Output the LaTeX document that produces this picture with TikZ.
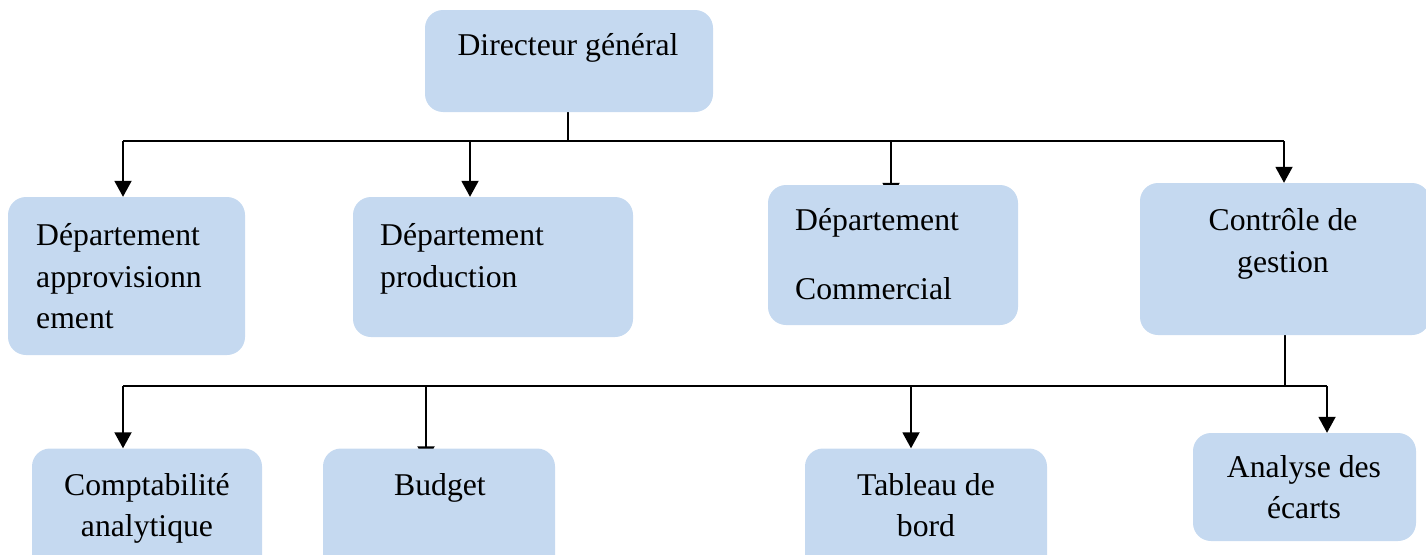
\documentclass[tikz,border=0pt]{standalone}
\usepackage{fontspec}
\setmainfont{Liberation Serif}
\usetikzlibrary{arrows.meta,backgrounds}
\definecolor{boxblue}{HTML}{C5D9F0}
\begin{document}
\begin{tikzpicture}[x=1pt,y=-1pt,
  box/.style={fill=boxblue,draw=none,rounded corners=18pt,inner sep=0pt},
  txt/.style={inner sep=0pt,font=\fontsize{31.7}{38}\selectfont},
  conn/.style={line width=1.9pt,draw=black},
  arr/.style={conn,-{Triangle[width=17pt,length=16pt]}},
  hidarr/.style={arr,shorten >=-14pt}]
\clip (0,0) rectangle (1426,554);
\useasboundingbox (0,0) rectangle (1426,554);
% boxes
\node[box,minimum width=288pt,minimum height=102pt] (dg) at (569,61) {};
\node[box,minimum width=237pt,minimum height=158pt] (appr) at (126.5,276) {};
\node[box,minimum width=280pt,minimum height=140pt] (prod) at (493,267) {};
\node[box,minimum width=250pt,minimum height=140pt] (comm) at (893,255) {};
\node[box,minimum width=290pt,minimum height=152pt] (ctrl) at (1285,259) {};
\node[box,minimum width=230pt,minimum height=125pt] (compta) at (147,511) {};
\node[box,minimum width=232pt,minimum height=125pt] (budget) at (439,511) {};
\node[box,minimum width=242pt,minimum height=125pt] (tab) at (926,511) {};
\node[box,minimum width=223pt,minimum height=108pt] (ana) at (1304.5,487) {};
% texts
\node[txt,anchor=base] (t-dg) at (568,55) {Directeur général};
\node[txt,anchor=base west] (t-ap1) at (36,245) {Département};
\node[txt,anchor=base west] (t-ap2) at (36,287) {approvisionn};
\node[txt,anchor=base west] (t-ap3) at (36,328) {ement};
\node[txt,anchor=base west] (t-pr1) at (380,245) {Département};
\node[txt,anchor=base west] (t-pr2) at (380,287) {production};
\node[txt,anchor=base west] (t-co1) at (795,230) {Département};
\node[txt,anchor=base west] (t-co2) at (795,299) {Commercial};
\node[txt,anchor=base] (t-ct1) at (1283,230) {Contrôle de};
\node[txt,anchor=base] (t-ct2) at (1283,272) {gestion};
\node[txt,anchor=base] (t-cp1) at (147,495) {Comptabilité};
\node[txt,anchor=base] (t-cp2) at (147,536) {analytique};
\node[txt,anchor=base] (t-bu) at (440,495) {Budget};
\node[txt,anchor=base] (t-tb1) at (926,495) {Tableau de};
\node[txt,anchor=base] (t-tb2) at (926,536) {bord};
\node[txt,anchor=base] (t-an1) at (1304,477) {Analyse des};
\node[txt,anchor=base] (t-an2) at (1304,518) {écarts};
% connector coordinates
\coordinate (b1) at (568,141);
\coordinate (d1) at (123,141);
\coordinate (d2) at (470,141);
\coordinate (d3) at (891,141);
\coordinate (d4) at (1284,141);
\coordinate (b2) at (1285,386);
\coordinate (e1) at (123,386);
\coordinate (e2) at (426,386);
\coordinate (e3) at (911,386);
\coordinate (e4) at (1327,386);
\begin{pgfonlayer}{background}
\draw[conn] (dg.south -| b1) -- (b1);
\draw[conn] (d1) -- (d4);
\draw[arr] (d1) -- (d1 |- appr.north);
\draw[arr] (d2) -- (d2 |- prod.north);
\draw[hidarr] (d3) -- (d3 |- comm.north);
\draw[arr] (d4) -- (d4 |- ctrl.north);
\draw[conn] (ctrl.south -| b2) -- (b2);
\draw[conn] (e1) -- (e4);
\draw[arr] (e1) -- (e1 |- compta.north);
\draw[hidarr] (e2) -- (e2 |- budget.north);
\draw[arr] (e3) -- (e3 |- tab.north);
\draw[arr] (e4) -- (e4 |- ana.north);
\end{pgfonlayer}
\end{tikzpicture}
\end{document}
